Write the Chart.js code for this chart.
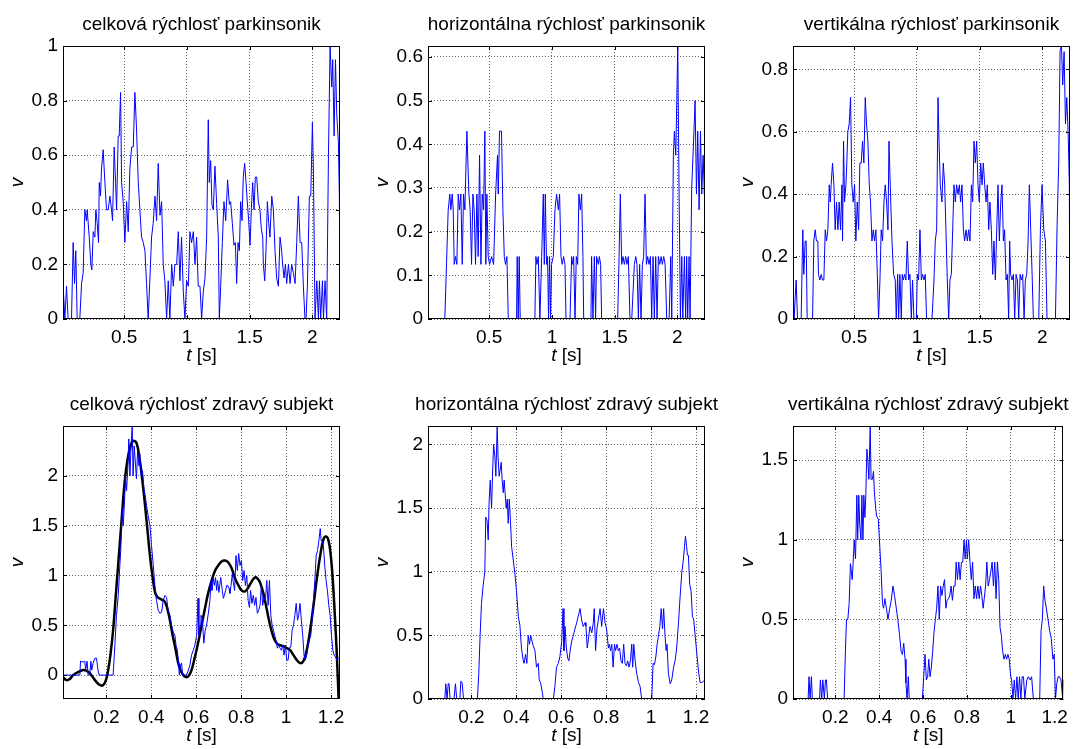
<!DOCTYPE html>
<html>
<head>
<meta charset="utf-8">
<script src="https://cdn.jsdelivr.net/npm/chart.js@4.4.0/dist/chart.umd.min.js"></script>
<style>
  html, body { margin: 0; padding: 0; background: #fff; overflow: hidden; }
  .panel { position: absolute; height: 368px; }
</style>
</head>
<body>
<div class="panel" style="left:0px;top:0px"><canvas id="c1" width="366" height="368"></canvas></div>
<div class="panel" style="left:365px;top:0px"><canvas id="c2" width="366" height="368"></canvas></div>
<div class="panel" style="left:730px;top:0px"><canvas id="c3" width="345" height="368"></canvas></div>
<div class="panel" style="left:0px;top:380px"><canvas id="c4" width="366" height="368"></canvas></div>
<div class="panel" style="left:365px;top:380px"><canvas id="c5" width="366" height="368"></canvas></div>
<div class="panel" style="left:730px;top:380px"><canvas id="c6" width="345" height="368"></canvas></div>
<script>
// --- parkinsonik: celková rýchlosť ---
const T_TOTAL_PD = [
  0.013,0.027,0.040,0.053,0.080,0.093,0.104,0.114,0.125,0.146,
  0.160,0.173,0.186,0.199,0.205,0.221,0.234,0.242,0.253,0.266,
  0.274,0.285,0.295,0.301,0.311,0.319,0.332,0.346,0.359,0.372,
  0.386,0.399,0.407,0.420,0.431,0.439,0.452,0.460,0.471,0.479,
  0.492,0.505,0.519,0.532,0.545,0.559,0.572,0.585,0.598,0.612,
  0.625,0.638,0.652,0.665,0.678,0.691,0.705,0.718,0.731,0.745,
  0.758,0.771,0.785,0.798,0.811,0.824,0.838,0.851,0.864,0.878,
  0.891,0.904,0.918,0.931,0.944,0.957,0.971,0.984,0.997,1.011,
  1.024,1.037,1.051,1.064,1.077,1.090,1.104,1.117,1.130,1.144,
  1.157,1.170,1.178,1.189,1.199,1.210,1.223,1.237,1.250,1.258,
  1.269,1.282,1.295,1.309,1.324,1.338,1.348,1.362,1.375,1.386,
  1.396,1.407,1.418,1.428,1.439,1.449,1.460,1.471,1.481,1.492,
  1.503,1.513,1.524,1.535,1.545,1.556,1.569,1.582,1.593,1.604,
  1.609,1.620,1.630,1.641,1.652,1.662,1.676,1.689,1.702,1.715,
  1.729,1.742,1.755,1.763,1.774,1.785,1.795,1.809,1.822,1.835,
  1.848,1.862,1.875,1.888,1.902,1.915,1.928,1.941,1.949,1.960,
  1.976,1.987,2.000,2.008,2.021,2.035,2.048,2.056,2.066,2.080,
  2.088,2.101,2.114,2.128,2.141,2.154,2.162,2.173,2.184,2.194,
  2.207,2.215,2.221
];
const V_TOTAL_PD = [
  0.12,0,0.12,0,0,0.28,0.13,0.25,0,0,
  0.13,0.17,0.4,0.36,0.4,0.3,0.2,0.18,0.32,0.3,
  0.4,0.35,0.28,0.5,0.45,0.55,0.62,0.5,0.4,0.4,
  0.45,0.4,0.36,0.63,0.5,0.4,0.67,0.67,0.83,0.5,
  0.43,0.28,0.43,0.32,0.55,0.63,0.63,0.83,0.7,0.5,
  0.4,0.3,0.28,0.25,0.13,0,0.15,0.3,0.35,0.45,
  0.36,0.57,0.38,0.43,0.2,0.14,0,0.14,0,0.2,
  0.12,0.2,0.2,0.32,0.14,0.3,0.1,0,0.14,0.12,
  0.32,0.28,0.32,0.2,0.3,0.12,0.12,0,0.1,0.15,
  0.3,0.73,0.5,0.58,0.42,0.4,0.56,0.42,0.3,0,
  0.12,0.28,0.43,0.36,0.51,0.42,0.43,0.35,0.27,0.28,
  0.13,0.28,0.25,0.43,0.36,0.52,0.57,0.5,0.43,0.36,
  0.27,0.4,0.5,0.4,0.52,0.52,0.43,0.4,0.33,0.3,
  0.2,0.14,0.25,0.43,0.35,0.3,0.45,0.4,0.25,0.15,
  0.12,0.3,0.25,0.2,0.15,0.2,0.13,0.2,0.13,0.2,
  0.17,0.13,0.28,0.45,0.28,0.28,0.12,0,0,0.12,
  0.45,0.45,0.72,0.55,0,0.14,0,0.14,0,0.14,
  0,0.14,0,0.6,1.0,0.85,0.95,0.67,0.95,0.75,
  0.65,0.45,0
];

// --- parkinsonik: horizontálna rýchlosť ---
const T_HORIZ_PD = [
  0.013,0.146,0.160,0.173,0.186,0.194,0.205,0.213,0.221,0.231,
  0.242,0.253,0.263,0.274,0.285,0.295,0.306,0.322,0.338,0.348,
  0.359,0.370,0.380,0.391,0.402,0.412,0.423,0.434,0.444,0.455,
  0.465,0.473,0.481,0.492,0.503,0.519,0.535,0.551,0.566,0.572,
  0.582,0.598,0.609,0.620,0.630,0.641,0.652,0.718,0.723,0.731,
  0.739,0.747,0.864,0.872,0.880,0.891,0.904,0.918,0.931,0.939,
  0.947,0.957,0.965,0.973,0.981,0.989,0.997,1.011,1.024,1.037,
  1.051,1.061,1.072,1.082,1.093,1.104,1.112,1.144,1.157,1.165,
  1.173,1.184,1.194,1.205,1.215,1.226,1.237,1.247,1.253,1.311,
  1.316,1.327,1.338,1.348,1.356,1.370,1.378,1.388,1.396,1.524,
  1.535,1.545,1.556,1.566,1.577,1.588,1.598,1.609,1.622,1.636,
  1.657,1.668,1.678,1.689,1.699,1.710,1.721,1.731,1.742,1.753,
  1.763,1.774,1.785,1.795,1.806,1.816,1.827,1.838,1.848,1.859,
  1.870,1.880,1.891,1.902,1.915,1.934,1.947,1.955,1.968,1.976,
  1.987,1.995,2.003,2.013,2.024,2.035,2.043,2.056,2.066,2.074,
  2.082,2.093,2.101,2.114,2.128,2.141,2.152,2.162,2.173,2.184,
  2.194,2.205,2.215,2.221
];
const V_HORIZ_PD = [
  0,0,0.13,0.25,0.286,0.25,0.286,0.25,0.125,0.143,
  0.125,0.286,0.25,0.286,0.125,0.286,0.25,0.43,0.286,0.25,
  0.125,0.286,0.25,0.125,0.286,0.143,0.375,0.125,0.286,0.25,
  0.43,0.125,0.286,0.143,0.125,0.143,0.125,0.286,0.375,0.286,
  0.43,0.43,0.25,0.143,0.125,0.143,0,0,0.143,0,
  0.143,0,0,0.143,0.125,0.143,0,0.143,0.286,0.125,
  0.286,0.125,0.143,0,0.143,0,0.125,0.143,0.25,0.286,
  0.25,0.286,0.143,0.125,0.143,0.125,0,0,0.143,0.125,
  0.143,0,0.143,0.125,0.286,0.25,0.286,0.143,0,0,
  0.143,0,0.143,0,0.143,0.125,0.143,0.125,0,0,
  0.143,0.286,0.125,0.143,0.125,0.143,0.125,0.143,0,0,
  0.125,0.143,0.125,0,0.125,0,0.125,0.143,0.286,0.125,
  0.143,0.125,0.143,0,0.143,0,0.143,0,0.143,0.125,
  0.143,0.125,0.143,0.125,0,0,0.143,0,0.375,0.43,
  0.375,0.5,0.625,0.3,0,0.143,0,0.143,0,0.143,
  0,0.143,0,0.3,0.4,0.5,0.286,0.43,0.25,0.43,
  0.286,0.375,0.286,0.375
];

// --- parkinsonik: vertikálna rýchlosť ---
const T_VERT_PD = [
  0.011,0.021,0.037,0.048,0.077,0.090,0.098,0.109,0.117,0.125,
  0.168,0.178,0.189,0.199,0.210,0.215,0.226,0.237,0.247,0.258,
  0.269,0.279,0.290,0.301,0.309,0.316,0.327,0.338,0.348,0.359,
  0.370,0.380,0.391,0.402,0.407,0.415,0.423,0.434,0.441,0.449,
  0.460,0.471,0.481,0.492,0.503,0.513,0.524,0.535,0.545,0.556,
  0.566,0.577,0.588,0.598,0.609,0.620,0.630,0.641,0.652,0.662,
  0.673,0.684,0.694,0.705,0.715,0.726,0.737,0.747,0.758,0.769,
  0.777,0.787,0.801,0.814,0.827,0.835,0.846,0.854,0.864,0.875,
  0.883,0.891,0.902,0.912,0.923,0.934,0.944,0.955,0.965,0.976,
  0.995,1.003,1.013,1.024,1.035,1.045,1.056,1.066,1.077,1.120,
  1.136,1.146,1.157,1.168,1.176,1.186,1.199,1.210,1.221,1.231,
  1.242,1.253,1.263,1.274,1.285,1.295,1.306,1.316,1.327,1.338,
  1.348,1.359,1.370,1.380,1.391,1.402,1.412,1.423,1.434,1.444,
  1.455,1.465,1.476,1.487,1.497,1.508,1.519,1.529,1.540,1.551,
  1.561,1.572,1.582,1.593,1.604,1.614,1.625,1.636,1.646,1.657,
  1.668,1.678,1.689,1.699,1.710,1.721,1.731,1.739,1.747,1.758,
  1.769,1.779,1.790,1.801,1.811,1.822,1.832,1.843,1.854,1.864,
  1.875,1.886,1.896,1.907,1.918,1.928,1.971,1.984,1.997,2.011,
  2.024,2.037,2.104,2.117,2.130,2.141,2.152,2.162,2.173,2.184,
  2.194,2.205,2.215,2.218
];
const V_VERT_PD = [
  0.125,0,0.125,0,0,0.286,0.143,0.25,0.25,0,
  0,0.25,0.286,0.25,0.25,0.143,0.125,0.143,0.125,0.125,
  0.286,0.25,0.286,0.43,0.375,0.43,0.5,0.43,0.286,0.375,
  0.286,0.375,0.286,0.43,0.25,0.57,0.375,0.43,0.5,0.6,
  0.625,0.71,0.43,0.375,0.43,0.25,0.375,0.286,0.5,0.5,
  0.57,0.5,0.71,0.625,0.57,0.43,0.375,0.25,0.286,0.25,
  0.286,0.143,0,0.125,0.286,0.25,0.375,0.43,0.375,0.286,
  0.57,0.43,0.25,0.143,0.125,0,0.143,0,0.143,0,
  0.143,0.125,0.143,0.125,0.25,0.125,0.143,0,0.125,0,
  0,0.143,0.125,0.286,0.125,0.143,0.125,0.143,0,0,
  0.125,0.25,0.286,0.71,0.57,0.43,0.375,0.5,0.43,0.286,
  0.125,0,0.125,0.143,0.286,0.43,0.375,0.43,0.4,0.43,
  0.375,0.43,0.286,0.25,0.286,0.25,0.286,0.25,0.43,0.375,
  0.57,0.5,0.57,0.43,0.375,0.5,0.43,0.5,0.43,0.375,
  0.43,0.286,0.375,0.286,0.143,0.25,0.125,0.286,0.43,0.25,
  0.375,0.43,0.25,0.286,0.125,0.143,0,0.25,0.143,0.125,
  0.143,0,0.143,0.125,0,0.143,0.125,0.143,0,0.125,
  0.143,0.25,0.43,0.286,0.143,0,0,0.286,0.43,0.286,
  0.25,0,0,0.3,0.5,0.86,0.875,0.75,0.857,0.625,
  0.71,0.6,0.43,0
];

// --- zdravý subjekt: celková rýchlosť (merané + vyhladené) ---
const T_TOTAL_HC = [
  0.007,0.082,0.085,0.097,0.104,0.108,0.114,0.119,0.126,0.131,
  0.135,0.141,0.149,0.156,0.163,0.168,0.230,0.238,0.245,0.253,
  0.260,0.264,0.270,0.275,0.281,0.285,0.290,0.296,0.300,0.305,
  0.309,0.315,0.319,0.324,0.330,0.334,0.339,0.345,0.349,0.355,
  0.361,0.367,0.373,0.379,0.386,0.394,0.401,0.409,0.416,0.423,
  0.431,0.438,0.446,0.453,0.461,0.468,0.475,0.483,0.490,0.498,
  0.505,0.510,0.516,0.520,0.525,0.530,0.535,0.539,0.557,0.565,
  0.572,0.579,0.587,0.594,0.602,0.608,0.612,0.617,0.621,0.627,
  0.634,0.640,0.646,0.654,0.661,0.666,0.670,0.676,0.681,0.686,
  0.691,0.695,0.701,0.709,0.716,0.721,0.725,0.731,0.736,0.740,
  0.746,0.750,0.755,0.761,0.765,0.771,0.777,0.783,0.789,0.795,
  0.801,0.807,0.813,0.819,0.825,0.831,0.837,0.842,0.848,0.854,
  0.860,0.866,0.872,0.878,0.884,0.890,0.896,0.902,0.908,0.914,
  0.920,0.926,0.932,0.938,0.944,0.949,0.955,0.961,0.967,0.973,
  0.979,0.985,0.991,0.997,1.003,1.009,1.015,1.021,1.027,1.033,
  1.039,1.045,1.051,1.056,1.062,1.068,1.074,1.080,1.086,1.092,
  1.098,1.104,1.110,1.116,1.122,1.128,1.134,1.140,1.146,1.152,
  1.156,1.160,1.166,1.172,1.178,1.184,1.190,1.196,1.202,1.208,
  1.214,1.220,1.226,1.233,1.241
];
const V_TOTAL_HC = [
  0,0,0.14,0.13,0.14,0.05,0.14,0,0,0.14,
  0.05,0.12,0.17,0.17,0.05,0,0,0.3,0.6,0.8,
  1.1,1.25,1.67,1.5,1.75,2.0,1.85,2.1,2.37,2.0,
  2.25,2.5,2.0,2.3,2.1,1.97,2.25,2.1,2.22,2.0,
  2.05,1.87,1.8,1.7,1.6,1.5,1.3,1.1,0.9,0.75,
  0.65,0.62,0.63,0.75,0.8,0.78,0.65,0.6,0.5,0.43,
  0.4,0.3,0.25,0.15,0,0.1,0.12,0,0,0.05,
  0.1,0.2,0.25,0.3,0.4,0.77,0.4,0.5,0.6,0.57,
  0.32,0.45,0.5,0.62,0.75,0.95,0.85,0.98,0.9,0.98,
  0.85,0.95,0.83,0.98,0.85,0.77,0.8,0.85,0.9,0.9,
  0.87,0.82,0.9,1.02,0.93,0.85,1.2,1.05,1.22,1.1,
  1.15,0.95,1.05,0.9,1.0,0.75,0.68,0.85,0.72,0.8,
  0.7,0.78,0.62,0.65,0.7,0.9,0.7,0.78,0.75,0.95,
  0.7,0.95,0.6,0.5,0.45,0.4,0.35,0.27,0.3,0.27,
  0.25,0.3,0.2,0.3,0.15,0.15,0.28,0.28,0.45,0.5,
  0.6,0.72,0.55,0.6,0.72,0.55,0.4,0.2,0.15,0.2,
  0.3,0.35,0.4,0.55,0.75,0.95,1.2,1.25,1.35,1.47,
  1.35,1.35,1.3,1.1,0.95,0.85,0.7,0.6,0.4,0.25,
  0.2,0.18,0.15,0.17,0.18
];
const T_FIT_HC = [
  0.007,0.022,0.037,0.052,0.074,0.097,0.114,0.126,0.149,0.171,
  0.186,0.198,0.208,0.218,0.230,0.242,0.254,0.266,0.278,0.290,
  0.305,0.319,0.334,0.346,0.358,0.370,0.382,0.394,0.406,0.418,
  0.429,0.444,0.459,0.471,0.483,0.495,0.507,0.519,0.530,0.542,
  0.554,0.566,0.579,0.594,0.609,0.624,0.639,0.654,0.669,0.684,
  0.698,0.713,0.728,0.743,0.758,0.773,0.788,0.802,0.817,0.832,
  0.847,0.862,0.872,0.884,0.899,0.914,0.929,0.944,0.958,0.973,
  0.988,1.003,1.018,1.033,1.048,1.062,1.077,1.092,1.107,1.122,
  1.137,1.152,1.166,1.178,1.189,1.199,1.208,1.217,1.226,1.235
];
const V_FIT_HC = [
  -0.02,-0.05,-0.04,0,0.03,0.05,0.04,0.02,-0.05,-0.1,
  -0.1,-0.05,0.05,0.2,0.45,0.8,1.15,1.5,1.85,2.1,
  2.28,2.35,2.33,2.2,2.0,1.75,1.48,1.2,0.98,0.82,
  0.78,0.76,0.74,0.67,0.55,0.4,0.27,0.13,0.05,0,
  -0.02,-0.01,0.05,0.18,0.33,0.5,0.67,0.83,0.95,1.05,
  1.1,1.14,1.15,1.13,1.07,0.97,0.9,0.85,0.84,0.88,
  0.94,0.98,0.97,0.93,0.82,0.66,0.5,0.38,0.32,0.3,
  0.29,0.27,0.25,0.2,0.15,0.12,0.14,0.25,0.45,0.7,
  0.97,1.2,1.36,1.39,1.35,1.2,0.95,0.6,0.2,-0.3
];

// --- zdravý subjekt: horizontálna rýchlosť ---
const T_HORIZ_HC = [
  0.007,0.082,0.086,0.092,0.097,0.101,0.105,0.123,0.129,0.135,
  0.149,0.153,0.159,0.165,0.227,0.233,0.239,0.245,0.253,0.260,
  0.264,0.270,0.275,0.279,0.284,0.290,0.294,0.299,0.305,0.309,
  0.315,0.319,0.324,0.328,0.333,0.337,0.342,0.346,0.351,0.355,
  0.360,0.364,0.369,0.374,0.379,0.386,0.394,0.401,0.409,0.416,
  0.423,0.431,0.435,0.441,0.447,0.453,0.459,0.464,0.468,0.475,
  0.483,0.490,0.498,0.502,0.508,0.516,0.520,0.565,0.572,0.579,
  0.587,0.594,0.602,0.608,0.612,0.617,0.623,0.629,0.634,0.640,
  0.646,0.654,0.661,0.669,0.676,0.684,0.691,0.698,0.706,0.710,
  0.716,0.721,0.728,0.736,0.743,0.747,0.753,0.759,0.765,0.773,
  0.780,0.788,0.795,0.802,0.810,0.814,0.820,0.825,0.831,0.837,
  0.842,0.848,0.854,0.860,0.866,0.872,0.878,0.884,0.890,0.896,
  0.902,0.908,0.914,0.918,0.923,0.929,0.936,0.944,0.951,0.958,
  1.003,1.009,1.015,1.021,1.027,1.033,1.039,1.045,1.051,1.056,
  1.062,1.067,1.071,1.077,1.085,1.092,1.100,1.107,1.114,1.122,
  1.129,1.137,1.144,1.149,1.153,1.158,1.162,1.166,1.172,1.178,
  1.184,1.190,1.196,1.204,1.211,1.218,1.226,1.233,1.241
];
const V_HORIZ_HC = [
  0,0,0.12,0,0.12,0.12,0,0,0.12,0,
  0,0.14,0.13,0,0,0.2,0.5,0.75,0.9,1.0,
  1.43,1.4,1.25,1.55,1.72,1.5,1.75,2.0,1.9,1.75,
  2.15,1.9,1.75,1.8,1.86,1.72,1.62,1.72,1.6,1.5,
  1.57,1.38,1.57,1.4,1.2,1.1,0.98,0.85,0.65,0.58,
  0.4,0.3,0.28,0.35,0.28,0.5,0.43,0.5,0.47,0.42,
  0.38,0.25,0.28,0.15,0.13,0.05,0,0,0.1,0.25,
  0.28,0.33,0.45,0.71,0.38,0.57,0.4,0.32,0.3,0.38,
  0.45,0.5,0.55,0.6,0.65,0.71,0.62,0.57,0.6,0.57,
  0.4,0.47,0.57,0.52,0.6,0.71,0.38,0.55,0.62,0.71,
  0.57,0.71,0.6,0.55,0.4,0.43,0.38,0.43,0.25,0.43,
  0.38,0.43,0.38,0.4,0.3,0.28,0.43,0.28,0.26,0.3,
  0.25,0.3,0.43,0.25,0.43,0.3,0.2,0.13,0.1,0,
  0,0.28,0.27,0.33,0.43,0.5,0.57,0.71,0.55,0.71,
  0.5,0.38,0.43,0.2,0.12,0.15,0.25,0.3,0.4,0.6,
  0.8,1.0,1.1,1.2,1.28,1.2,1.13,1.13,0.9,0.85,
  0.65,0.62,0.5,0.35,0.22,0.13,0.13,0.14,0.13
];

// --- zdravý subjekt: vertikálna rýchlosť ---
const T_VERT_HC = [
  0.006,0.076,0.080,0.085,0.091,0.095,0.128,0.132,0.138,0.143,
  0.150,0.155,0.159,0.165,0.240,0.246,0.251,0.257,0.263,0.269,
  0.277,0.281,0.286,0.292,0.298,0.302,0.307,0.311,0.317,0.321,
  0.326,0.330,0.335,0.339,0.344,0.348,0.353,0.359,0.363,0.369,
  0.374,0.378,0.384,0.388,0.396,0.403,0.409,0.415,0.420,0.426,
  0.433,0.440,0.448,0.455,0.463,0.470,0.478,0.485,0.493,0.500,
  0.506,0.512,0.518,0.522,0.527,0.533,0.537,0.597,0.603,0.609,
  0.615,0.621,0.626,0.632,0.638,0.644,0.650,0.656,0.662,0.668,
  0.674,0.680,0.686,0.692,0.698,0.704,0.710,0.716,0.722,0.728,
  0.734,0.740,0.746,0.751,0.757,0.763,0.769,0.775,0.781,0.787,
  0.792,0.798,0.802,0.808,0.814,0.820,0.826,0.832,0.838,0.844,
  0.850,0.856,0.862,0.868,0.874,0.879,0.885,0.891,0.897,0.903,
  0.909,0.915,0.921,0.927,0.933,0.939,0.945,0.951,0.957,0.963,
  0.969,0.975,0.981,0.987,0.993,0.999,1.004,1.010,1.016,1.022,
  1.028,1.034,1.040,1.046,1.052,1.058,1.064,1.073,1.080,1.088,
  1.095,1.103,1.132,1.138,1.144,1.150,1.156,1.162,1.170,1.177,
  1.185,1.192,1.198,1.204,1.210,1.216,1.222,1.229,1.237,1.241
];
const V_VERT_HC = [
  0,0,0.14,0,0.14,0,0,0.12,0,0.12,
  0,0.12,0.12,0,0,0.3,0.5,0.5,0.6,0.85,
  0.75,0.85,1.0,0.88,1.28,1.0,1.28,1.1,1.0,1.28,
  1.0,1.28,1.14,1.28,1.57,1.5,1.38,1.71,1.38,1.38,
  1.43,1.3,1.2,1.15,1.13,0.95,0.8,0.6,0.57,0.63,
  0.57,0.5,0.57,0.62,0.71,0.65,0.57,0.5,0.4,0.3,
  0.28,0.35,0.25,0.1,0,0.14,0,0,0.14,0.28,
  0.12,0.14,0.25,0.14,0.2,0.3,0.42,0.5,0.57,0.71,
  0.5,0.71,0.65,0.71,0.75,0.57,0.62,0.63,0.65,0.71,
  0.62,0.71,0.71,0.86,0.75,0.86,0.75,0.86,0.86,1.0,
  0.88,1.0,0.88,1.0,0.86,0.75,0.86,0.63,0.71,0.63,
  0.71,0.63,0.71,0.65,0.57,0.63,0.71,0.86,0.71,0.75,
  0.8,0.86,0.71,0.86,0.63,0.86,0.75,0.45,0.4,0.3,
  0.25,0.28,0.25,0.28,0.25,0.15,0.12,0,0.12,0,
  0.14,0,0.14,0,0.14,0.14,0,0.12,0.14,0.12,
  0.14,0,0,0.43,0.5,0.71,0.62,0.57,0.5,0.43,
  0.38,0.25,0.28,0,0.1,0.14,0.14,0.12,0,0.12
];

// tick labels
const X_TICKS_PD = [0.5, 1, 1.5, 2];
const X_TICKS_HC = [0.2, 0.4, 0.6, 0.8, 1, 1.2];
const Y_TICKS_TOTAL_PD = [0, 0.2, 0.4, 0.6, 0.8, 1];
const Y_TICKS_HORIZ_PD = [0, 0.1, 0.2, 0.3, 0.4, 0.5, 0.6];
const Y_TICKS_VERT_PD = [0, 0.2, 0.4, 0.6, 0.8];
const Y_TICKS_TOTAL_HC = [0, 0.5, 1, 1.5, 2];
const Y_TICKS_HORIZ_HC = [0, 0.5, 1, 1.5, 2];
const Y_TICKS_VERT_HC = [0, 0.5, 1, 1.5];

const FONT = '"Liberation Sans", Arial, sans-serif';
const FONT_SIZE = 19;

function zip(T, V) {
  return T.map((t, i) => ({ x: t, y: V[i] }));
}

// Matlab-like box, inward ticks, title and the "t [s]" axis label
const axesBox = {
  id: 'axesBox',
  afterDraw(chart, args, opts) {
    const { ctx, chartArea: a, scales } = chart;
    ctx.save();
    ctx.strokeStyle = '#000';
    ctx.lineWidth = 1;
    ctx.strokeRect(Math.round(a.left) + 0.5, Math.round(a.top) + 0.5,
                   Math.round(a.right - a.left) - 1, Math.round(a.bottom - a.top) - 1);
    ctx.beginPath();
    scales.x.ticks.forEach(tk => {
      const px = Math.round(scales.x.getPixelForValue(tk.value)) + 0.5;
      ctx.moveTo(px, a.bottom); ctx.lineTo(px, a.bottom - 4);
      ctx.moveTo(px, a.top); ctx.lineTo(px, a.top + 4);
    });
    scales.y.ticks.forEach(tk => {
      const py = Math.round(scales.y.getPixelForValue(tk.value)) + 0.5;
      ctx.moveTo(a.left, py); ctx.lineTo(a.left + 4, py);
      ctx.moveTo(a.right, py); ctx.lineTo(a.right - 4, py);
    });
    ctx.stroke();

    const cx = (a.left + a.right) / 2;
    ctx.fillStyle = '#000';
    ctx.textBaseline = 'alphabetic';

    // title
    ctx.font = FONT_SIZE + 'px ' + FONT;
    ctx.textAlign = 'center';
    ctx.fillText(opts.title, cx, a.top - 16);

    // x label: italic t + [s]
    const y = a.bottom + 42;
    ctx.font = 'italic ' + FONT_SIZE + 'px ' + FONT;
    const w1 = ctx.measureText('t').width;
    ctx.font = FONT_SIZE + 'px ' + FONT;
    const w2 = ctx.measureText(' [s]').width;
    const x = cx - (w1 + w2) / 2;
    ctx.textAlign = 'left';
    ctx.font = 'italic ' + FONT_SIZE + 'px ' + FONT;
    ctx.fillText('t', x, y);
    ctx.font = FONT_SIZE + 'px ' + FONT;
    ctx.fillText(' [s]', x + w1, y);
    ctx.restore();
  }
};

function panel(id, title, datasets, xRange, yRange, xTicks, yTicks) {
  const canvas = document.getElementById(id);
  // plot area is always 277 px wide: the rest of the canvas is right margin
  const rightPad = canvas.width - 63 - 277;
  const tickFont = { family: FONT, size: FONT_SIZE };
  new Chart(canvas, {
    type: 'line',
    data: { datasets: datasets },
    options: {
      responsive: false,
      animation: false,
      layout: { padding: { left: 0, right: rightPad, top: 46, bottom: 0 } },
      elements: { point: { radius: 0 } },
      plugins: {
        legend: { display: false },
        tooltip: { enabled: false },
        title: { display: false },
        axesBox: { title: title }
      },
      scales: {
        x: {
          type: 'linear', min: xRange[0], max: xRange[1],
          afterBuildTicks: s => { s.ticks = xTicks.map(v => ({ value: v })); },
          afterFit: s => { s.height = 49; },
          grid: { color: 'rgba(0,0,0,0.6)', lineWidth: 1, drawTicks: false },
          border: { display: false, dash: [1, 2] },
          ticks: { color: '#000', font: tickFont, padding: 7, maxRotation: 0, autoSkip: false,
                   callback: v => String(v) }
        },
        y: {
          type: 'linear', min: yRange[0], max: yRange[1],
          afterBuildTicks: s => { s.ticks = yTicks.map(v => ({ value: v })); },
          afterFit: s => { s.width = 63; },
          grid: { color: 'rgba(0,0,0,0.6)', lineWidth: 1, drawTicks: false },
          border: { display: false, dash: [1, 2] },
          ticks: { color: '#000', font: tickFont, padding: 5, autoSkip: false,
                   callback: v => String(v) },
          title: { display: true, text: 'v', color: '#000',
                   font: { family: FONT, size: FONT_SIZE, style: 'italic', lineHeight: 1.2 },
                   padding: { top: 6, bottom: 0 } }
        }
      }
    },
    plugins: [axesBox]
  });
}

function blue(T, V) {
  return { data: zip(T, V), borderColor: '#0000ff', borderWidth: 1, tension: 0, fill: false };
}

const X_PD = [0.012, 2.22];
const X_HC = [0.007, 1.24];

panel('c1', 'celková rýchlosť parkinsonik', [blue(T_TOTAL_PD, V_TOTAL_PD)],
      X_PD, [0, 1], X_TICKS_PD, Y_TICKS_TOTAL_PD);
panel('c2', 'horizontálna rýchlosť parkinsonik', [blue(T_HORIZ_PD, V_HORIZ_PD)],
      X_PD, [0, 0.625], X_TICKS_PD, Y_TICKS_HORIZ_PD);
panel('c3', 'vertikálna rýchlosť parkinsonik', [blue(T_VERT_PD, V_VERT_PD)],
      X_PD, [0, 0.875], X_TICKS_PD, Y_TICKS_VERT_PD);
panel('c4', 'celková rýchlosť zdravý subjekt', [
        blue(T_TOTAL_HC, V_TOTAL_HC),
        { data: zip(T_FIT_HC, V_FIT_HC), borderColor: '#000', borderWidth: 2.5, tension: 0.4, fill: false }
      ], X_HC, [-0.24, 2.5], X_TICKS_HC, Y_TICKS_TOTAL_HC);
panel('c5', 'horizontálna rýchlosť zdravý subjekt', [blue(T_HORIZ_HC, V_HORIZ_HC)],
      X_HC, [0, 2.145], X_TICKS_HC, Y_TICKS_HORIZ_HC);
panel('c6', 'vertikálna rýchlosť zdravý subjekt', [blue(T_VERT_HC, V_VERT_HC)],
      X_HC, [0, 1.715], X_TICKS_HC, Y_TICKS_VERT_HC);
</script>
</body>
</html>
